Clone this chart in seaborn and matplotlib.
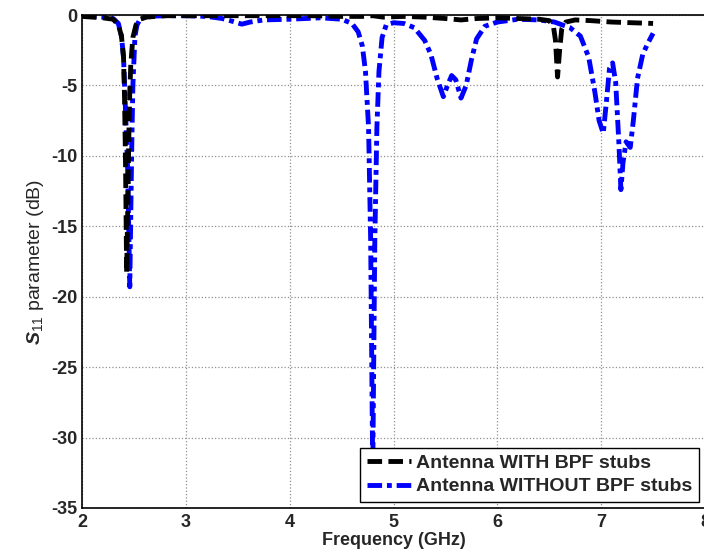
import numpy as np
import pandas as pd
import matplotlib
matplotlib.use("Agg")
import matplotlib.pyplot as plt
import seaborn as sns

# --- data ---
freq_with = [2.00, 2.10, 2.20, 2.30, 2.35, 2.38, 2.40, 2.41, 2.42, 2.43, 2.44, 2.45, 2.46, 2.47,
             2.49, 2.52, 2.56, 2.62, 2.80, 3.00, 3.30, 3.60, 3.90, 4.20, 4.50, 4.70, 4.80,
             4.90, 5.10, 5.30, 5.50, 5.65, 5.80, 6.00, 6.20, 6.40, 6.50, 6.54, 6.56, 6.58,
             6.60, 6.62, 6.66, 6.75, 6.90, 7.10, 7.30, 7.50]
s11_with = [-0.10, -0.15, -0.20, -0.30, -0.70, -1.50, -3.00, -6.00, -11.0, -18.3, -14.0, -9.0,
            -5.5, -3.5, -1.6, -0.7, -0.3, -0.15, -0.05, -0.05, -0.05, -0.05, -0.05, -0.05,
            -0.10, -0.10, -0.05, -0.15, -0.10, -0.15, -0.25, -0.35, -0.25, -0.20, -0.25,
            -0.30, -0.40, -0.80, -1.80, -4.40, -2.50, -1.00, -0.50, -0.35, -0.40, -0.50,
            -0.55, -0.60]

freq_without = [2.00, 2.10, 2.20, 2.30, 2.35, 2.38, 2.40, 2.42, 2.44, 2.46, 2.47, 2.48, 2.49,
                2.51, 2.53, 2.56, 2.62, 2.80, 3.00, 3.20, 3.35, 3.45, 3.54, 3.62, 3.75, 4.00,
                4.30, 4.50, 4.60, 4.66, 4.70, 4.73, 4.76, 4.78, 4.80, 4.82, 4.84, 4.86, 4.89,
                4.93, 5.00, 5.10, 5.20, 5.30, 5.36, 5.42, 5.48, 5.52, 5.56, 5.60, 5.65, 5.70,
                5.75, 5.80, 5.88, 6.00, 6.20, 6.40, 6.55, 6.70, 6.80, 6.88, 6.94, 6.98, 7.02,
                7.05, 7.08, 7.11, 7.14, 7.17, 7.19, 7.21, 7.24, 7.28, 7.31, 7.35, 7.40, 7.45,
                7.50]
s11_without = [-0.05, -0.10, -0.15, -0.25, -0.60, -1.50, -3.00, -7.00, -11.0, -19.3, -14.0,
               -9.0, -5.0, -1.5, -0.7, -0.3, -0.10, -0.05, -0.05, -0.10, -0.25, -0.45, -0.65,
               -0.50, -0.35, -0.30, -0.20, -0.30, -0.60, -1.20, -2.20, -4.00, -8.00, -16.0,
               -32.5, -16.0, -8.00, -4.00, -1.60, -0.70, -0.55, -0.60, -0.90, -1.80, -2.80,
               -4.50, -5.80, -5.00, -4.30, -4.60, -5.90, -5.00, -3.20, -1.70, -0.80, -0.50,
               -0.30, -0.35, -0.50, -0.90, -1.50, -3.00, -5.50, -7.50, -8.40, -6.20, -3.80,
               -3.40, -4.80, -9.00, -12.4, -10.5, -9.00, -9.40, -7.50, -4.50, -2.80, -2.00,
               -1.30]

label_with = "Antenna WITH BPF stubs"
label_without = "Antenna WITHOUT BPF stubs"
x_ticks = [2, 3, 4, 5, 6, 7, 8]
y_ticks = [0, -5, -10, -15, -20, -25, -30, -35]

# --- styling ---
sns.set_style("white")
plt.rcParams["font.family"] = ["Liberation Sans", "DejaVu Sans"]
plt.rcParams["axes.unicode_minus"] = False
plt.rcParams["mathtext.fontset"] = "custom"
plt.rcParams["mathtext.rm"] = "Liberation Sans"
plt.rcParams["mathtext.bf"] = "Liberation Sans:bold:italic"
plt.rcParams["mathtext.it"] = "Liberation Sans:italic"

fig = plt.figure(figsize=(7.04, 5.60), dpi=100)
ax = fig.add_axes([82 / 704, 52 / 560, 623 / 704, 493 / 560])

df_with = pd.DataFrame({"f": freq_with, "s": s11_with})
df_without = pd.DataFrame({"f": freq_without, "s": s11_without})

sns.lineplot(data=df_with, x="f", y="s", ax=ax, color="black", lw=3.5,
             linestyle=(0, (3.0, 1.3)), label=label_with, sort=False, zorder=3)
sns.lineplot(data=df_without, x="f", y="s", ax=ax, color="#0000ff", lw=3.5,
             linestyle=(0, (3.0, 1.0, 1.0, 1.0)), label=label_without, sort=False, zorder=2)

ax.set_xlim(2, 8)
ax.set_ylim(-35, 0)
ax.set_xticks(x_ticks)
ax.set_yticks(y_ticks)
ax.set_xticklabels([str(t) for t in x_ticks], fontsize=13, fontweight="bold")
ax.set_yticklabels([str(t) for t in y_ticks], fontsize=13, fontweight="bold")
ax.tick_params(direction="in", length=5, width=1, color="black", pad=3)
ax.tick_params(axis="x", pad=4)
ax.grid(True, linestyle=":", color="#909090", linewidth=0.9)
for sp in ax.spines.values():
    sp.set_color("black")
    sp.set_linewidth(1.2)

ax.set_xlabel("Frequency (GHz)", fontsize=13, fontweight="bold", labelpad=1)
ax.set_ylabel(r"$\mathbf{S}_{11}$ parameter (dB)", fontsize=14, labelpad=4)

leg = ax.legend(loc="lower right", bbox_to_anchor=(1.0, 0.0), frameon=True, fancybox=False,
                prop={"weight": "bold", "size": 14}, handlelength=2.3, handletextpad=0.25,
                borderpad=0.35, labelspacing=0.3, borderaxespad=0.3)
leg.get_frame().set_edgecolor("black")
leg.get_frame().set_linewidth(1.0)
leg.get_frame().set_alpha(1.0)

fig.savefig("out.png", dpi=100)
